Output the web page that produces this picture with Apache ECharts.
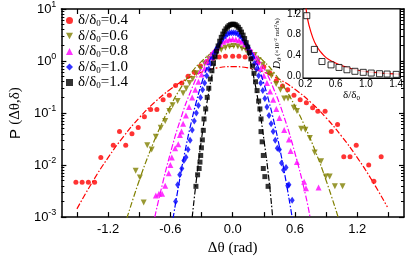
<!DOCTYPE html>
<html><head><meta charset="utf-8">
<script src="https://cdn.jsdelivr.net/npm/echarts@6/dist/echarts.min.js"></script>
<style>html,body{margin:0;padding:0;background:#fff}#c{width:415px;height:261px}</style>
</head><body><div id="c"></div>
<script>
// ---- data: measured P(Δθ,δ) ----
const red04 = [[-1.51,0.0047],[-1.45,0.0047],[-1.39,0.0047],[-1.33,0.0047],[-1.27,0.014],[-1.15,0.024],[-1.09,0.044],[-1.03,0.024],[-0.97,0.040],[-0.91,0.053],[-0.85,0.085],[-0.79,0.117],[-0.73,0.117],[-0.67,0.18],[-0.61,0.22],[-0.55,0.34],[-0.49,0.38],[-0.43,0.51],[-0.37,0.61],[-0.31,0.80],[-0.25,0.98],[-0.19,1.12],[-0.13,1.2],[-0.07,1.24],[0,1.24],[0.06,1.24],[0.12,1.2],[0.18,1.12],[0.24,0.95],[0.30,0.78],[0.36,0.58],[0.42,0.42],[0.48,0.33],[0.53,0.28],[0.59,0.22],[0.65,0.18],[0.71,0.158],[0.77,0.126],[0.82,0.108],[0.89,0.108],[0.95,0.044],[1.01,0.06],[1.07,0.0145],[1.13,0.0145],[1.19,0.024],[1.31,0.0100],[1.36,0.0049],[1.43,0.0145]];
const olive06 = [[-0.934,0.0078],[-0.894,0.0058],[-0.857,0.0019],[-0.823,0.024],[-0.78,0.02],[-0.74,0.035],[-0.693,0.052],[-0.65,0.07],[-0.61,0.11],[-0.579,0.142],[-0.53,0.17],[-0.477,0.24],[-0.447,0.295],[-0.415,0.38],[-0.385,0.45],[-0.35,0.58],[-0.31,0.72],[-0.27,0.9],[-0.23,1.1],[-0.19,1.3],[-0.15,1.5],[-0.11,1.65],[-0.07,1.8],[-0.03,1.9],[0.01,1.95],[0.05,1.9],[0.09,1.75],[0.13,1.6],[0.17,1.45],[0.21,1.3],[0.25,1.05],[0.29,0.85],[0.341,0.6],[0.373,0.52],[0.419,0.36],[0.46,0.28],[0.496,0.19],[0.533,0.19],[0.588,0.126],[0.619,0.11],[0.66,0.05],[0.70,0.048],[0.743,0.033],[0.79,0.0174],[0.851,0.0119],[0.897,0.006],[0.934,0.006],[0.984,0.0039],[1.058,0.0039]];
const mag08 = [[-0.74,0.0026],[-0.71,0.0028],[-0.68,0.0028],[-0.65,0.004],[-0.616,0.007],[-0.60,0.01],[-0.586,0.014],[-0.554,0.021],[-0.524,0.025],[-0.508,0.038],[-0.493,0.044],[-0.477,0.062],[-0.45,0.09],[-0.42,0.13],[-0.39,0.2],[-0.36,0.28],[-0.33,0.4],[-0.30,0.55],[-0.27,0.72],[-0.24,0.95],[-0.21,1.2],[-0.18,1.5],[-0.15,1.8],[-0.12,2.1],[-0.09,2.35],[-0.06,2.5],[-0.03,2.6],[0,2.65],[0.03,2.6],[0.06,2.5],[0.09,2.35],[0.12,2.1],[0.15,1.8],[0.18,1.5],[0.21,1.2],[0.24,0.95],[0.27,0.72],[0.30,0.52],[0.33,0.38],[0.36,0.26],[0.39,0.18],[0.42,0.12],[0.45,0.08],[0.496,0.047],[0.542,0.031],[0.558,0.0187],[0.619,0.0114],[0.688,0.0048],[0.706,0.0036],[0.827,0.0037]];
const blue10 = [[-0.55,0.002],[-0.53,0.0042],[-0.51,0.0065],[-0.49,0.0086],[-0.47,0.0123],[-0.45,0.0141],[-0.43,0.02],[-0.41,0.03],[-0.39,0.047],[-0.37,0.07],[-0.35,0.1],[-0.33,0.14],[-0.31,0.2],[-0.29,0.28],[-0.27,0.38],[-0.25,0.52],[-0.23,0.7],[-0.21,0.9],[-0.19,1.15],[-0.17,1.45],[-0.15,1.8],[-0.13,2.1],[-0.11,2.45],[-0.09,2.8],[-0.07,3.05],[-0.05,3.3],[-0.03,3.45],[-0.01,3.5],[0.01,3.5],[0.03,3.45],[0.05,3.3],[0.07,3.05],[0.09,2.8],[0.11,2.45],[0.13,2.1],[0.15,1.8],[0.17,1.45],[0.19,1.15],[0.21,0.9],[0.23,0.7],[0.25,0.52],[0.27,0.38],[0.29,0.27],[0.31,0.19],[0.33,0.13],[0.35,0.09],[0.37,0.062],[0.39,0.044],[0.41,0.03],[0.43,0.021],[0.45,0.02],[0.47,0.011],[0.49,0.008],[0.514,0.009],[0.53,0.004],[0.542,0.0042],[0.573,0.0021]];
const black14 = [[-0.354,0.0039],[-0.338,0.0065],[-0.323,0.0086],[-0.315,0.0114],[-0.308,0.0153],[-0.301,0.0215],[-0.292,0.0305],[-0.283,0.0465],[-0.276,0.077],[-0.26,0.12],[-0.245,0.2],[-0.23,0.3],[-0.215,0.45],[-0.2,0.65],[-0.185,0.9],[-0.17,1.2],[-0.155,1.55],[-0.14,1.95],[-0.125,2.4],[-0.11,2.85],[-0.095,3.3],[-0.08,3.75],[-0.065,4.15],[-0.05,4.5],[-0.035,4.8],[-0.02,5.0],[-0.005,5.1],[0.01,5.1],[0.025,5.0],[0.04,4.75],[0.055,4.45],[0.07,4.05],[0.085,3.6],[0.1,3.15],[0.115,2.7],[0.13,2.25],[0.145,1.85],[0.16,1.45],[0.175,1.1],[0.19,0.8],[0.205,0.58],[0.22,0.4],[0.235,0.27],[0.25,0.17],[0.262,0.12],[0.273,0.077],[0.273,0.044],[0.284,0.028],[0.295,0.0153],[0.295,0.0086],[0.31,0.006],[0.341,0.0039]];
// ---- fitted curves (dash-dot) ----
const redFit = [[-1.5,0.00144],[-1.35,0.00476],[-1.2,0.0139],[-1.05,0.0357],[-0.9,0.081],[-0.75,0.162],[-0.6,0.286],[-0.45,0.445],[-0.3,0.61],[-0.15,0.736],[0,0.78],[0.15,0.736],[0.3,0.61],[0.45,0.445],[0.6,0.286],[0.75,0.162],[0.9,0.081],[1.05,0.0357],[1.2,0.0139],[1.35,0.00476],[1.49,0.00156]];
const oliveFit = [[-1.02,0.00094],[-0.9,0.00506],[-0.8,0.0176],[-0.7,0.0527],[-0.6,0.136],[-0.5,0.305],[-0.4,0.59],[-0.3,0.986],[-0.2,1.42],[-0.1,1.77],[0,1.905],[0.1,1.77],[0.2,1.42],[0.3,0.986],[0.4,0.59],[0.5,0.305],[0.6,0.136],[0.7,0.0527],[0.8,0.0176],[0.9,0.00506],[1.02,0.00094]];
const magFit = [[-0.75,0.001],[-0.7,0.00276],[-0.6,0.0169],[-0.5,0.0785],[-0.4,0.275],[-0.3,0.733],[-0.2,1.47],[-0.1,2.24],[0,2.57],[0.1,2.24],[0.2,1.47],[0.3,0.733],[0.4,0.275],[0.5,0.0785],[0.6,0.0169],[0.7,0.00276],[0.745,0.001]];
const blueFit = [[-0.575,0.00093],[-0.5,0.0069],[-0.45,0.0225],[-0.4,0.065],[-0.35,0.165],[-0.3,0.37],[-0.25,0.733],[-0.2,1.28],[-0.15,1.98],[-0.1,2.70],[-0.05,3.26],[0,3.47],[0.05,3.26],[0.1,2.70],[0.15,1.98],[0.2,1.28],[0.25,0.733],[0.3,0.37],[0.35,0.165],[0.4,0.065],[0.45,0.0225],[0.5,0.0069],[0.575,0.00093]];
const blackFit = [[-0.39,0.00099],[-0.35,0.0051],[-0.3,0.0316],[-0.25,0.148],[-0.2,0.522],[-0.15,1.39],[-0.1,2.80],[-0.05,4.26],[0,4.90],[0.05,4.26],[0.1,2.80],[0.15,1.39],[0.2,0.522],[0.25,0.148],[0.3,0.0316],[0.35,0.0051],[0.385,0.00099]];
// ---- inset: D_theta vs delta/delta0 ----
const insetPts = [[0.22,1.17],[0.32,0.515],[0.42,0.28],[0.54,0.215],[0.645,0.165],[0.75,0.12],[0.855,0.09],[0.965,0.07],[1.07,0.056],[1.18,0.043],[1.28,0.037],[1.40,0.031]];
const insetFit = [[0.2,1.5],[0.22,1.2],[0.25,0.98],[0.3,0.74],[0.35,0.58],[0.4,0.47],[0.45,0.39],[0.5,0.33],[0.6,0.25],[0.7,0.19],[0.8,0.145],[0.9,0.11],[1.0,0.085],[1.1,0.068],[1.2,0.055],[1.3,0.046],[1.45,0.036]];
// ---- ticks ----
const xTicks = [-1.5,-1.2,-0.9,-0.6,-0.3,0,0.3,0.6,0.9,1.2,1.5];
const xLabels = [-1.2,-0.6,0,0.6,1.2];
const yMinor = [0.002,0.003,0.004,0.005,0.006,0.007,0.008,0.009,0.02,0.03,0.04,0.05,0.06,0.07,0.08,0.09,0.2,0.3,0.4,0.5,0.6,0.7,0.8,0.9,2,3,4,5,6,7,8,9];
const insXLabels = [0.2,0.6,1.0,1.4];
const insXTicks = [0.2,0.4,0.6,0.8,1.0,1.2,1.4];
const insYLabels = [0,0.4,0.8,1.2];
const insYTicks = [0,0.2,0.4,0.6,0.8,1.0,1.2];
const names = ['0.4','0.6','0.8','1.0','1.4'];
const colors = ['#ff0000','#808000','#ff00ff','#0000ff','#000000'];

const chart = echarts.init(document.getElementById('c'), null, {renderer:'canvas'});
const serif = 'Liberation Serif, Times New Roman, serif';
const sans = 'Liberation Sans, Arial, sans-serif';
const line = {onZero:false, lineStyle:{color:'#000',width:1.5}};
const thin = {onZero:false, lineStyle:{color:'#000',width:1}};
const noLine = {show:false, onZero:false};
const dashDot = [6,2,1.5,2];

const scat = [red04, olive06, mag08, blue10, black14];
const fits = [redFit, oliveFit, magFit, blueFit, blackFit];
const syms = ['circle','path://M0,0L10,0L5,9Z','triangle','diamond','rect'];
const sizes = [5,[6,6],[6,6],[5,7],5];
const series = [];
for (let i=0;i<5;i++){
  series.push({type:'scatter', name:names[i], xAxisIndex:0, yAxisIndex:0, data:scat[i], symbol:syms[i], symbolSize:sizes[i], itemStyle:{color:colors[i]}, z:3+i, animation:false});
  series.push({type:'line', xAxisIndex:0, yAxisIndex:0, data:fits[i], showSymbol:false, smooth:true, lineStyle:{color:colors[i], width:1.2, type:dashDot}, z:3+i, animation:false});
}
series.push({type:'line', xAxisIndex:2, yAxisIndex:4, data:insetFit, showSymbol:false, smooth:true, clip:true, lineStyle:{color:'#ff0000', width:1.2}, z:20, animation:false});
series.push({type:'scatter', xAxisIndex:2, yAxisIndex:4, data:insetPts, symbol:'rect', symbolSize:6, itemStyle:{color:'#fff', borderColor:'#000', borderWidth:1}, z:21, animation:false});

chart.setOption({
  animation:false,
  grid:[
    {left:48, top:7, right:11, bottom:37},
    {left:303, top:9, width:97, height:69, show:true, backgroundColor:'#fff', borderColor:'#000', borderWidth:1, z:10}
  ],
  legend:{
    data:names, orient:'vertical', left:61, top:8, itemGap:0, itemWidth:7, itemHeight:7,
    formatter: n => '{a|δ/δ}{s|0}{a|=' + n + '}',
    textStyle:{rich:{a:{fontFamily:serif,fontSize:15,color:'#000',lineHeight:14}, s:{fontFamily:serif,fontSize:9,color:'#000',padding:[7,0,0,0]}}}
  },
  xAxis:[
    {gridIndex:0, type:'value', min:-1.65, max:1.65, position:'bottom', axisLine:line, splitLine:{show:false},
     axisTick:{inside:true, length:5, customValues:xTicks, lineStyle:{color:'#000',width:1.2}},
     axisLabel:{customValues:xLabels, formatter:v=>v.toFixed(1), color:'#000', fontSize:13, fontFamily:sans, margin:6},
     name:'Δθ (rad)', nameLocation:'middle', nameGap:19, nameTextStyle:{fontFamily:serif, fontSize:15, color:'#000'}},
    {gridIndex:0, type:'value', min:-1.65, max:1.65, position:'top', axisLine:line, splitLine:{show:false},
     axisTick:{inside:true, length:5, customValues:xTicks, lineStyle:{color:'#000',width:1.2}}, axisLabel:{show:false}},
    {gridIndex:1, type:'value', min:0.17, max:1.45, position:'bottom', axisLine:thin, splitLine:{show:false},
     axisTick:{inside:true, length:3, customValues:insXTicks, lineStyle:{color:'#000'}},
     axisLabel:{customValues:insXLabels, formatter:v=>v.toFixed(1), color:'#000', fontSize:10, fontFamily:sans, margin:1},
     name:'δ/δ{s|0}', nameLocation:'middle', nameGap:9, nameTextStyle:{fontFamily:serif, fontSize:11, color:'#000', rich:{s:{fontFamily:serif,fontSize:7,padding:[5,0,0,0]}}}},
    {gridIndex:1, type:'value', min:0.17, max:1.45, position:'top', axisLine:thin, splitLine:{show:false},
     axisTick:{inside:true, length:3, customValues:insXTicks, lineStyle:{color:'#000'}}, axisLabel:{show:false}}
  ],
  yAxis:[
    {gridIndex:0, type:'log', logBase:10, min:0.001, max:10, position:'left', axisLine:line, splitLine:{show:false},
     axisTick:{inside:true, length:5, lineStyle:{color:'#000',width:1.2}},
     axisLabel:{color:'#000', margin:5, formatter:v=>'{b|10}{s|'+Math.round(Math.log10(v))+'}',
       rich:{b:{fontFamily:sans,fontSize:13,color:'#000'}, s:{fontFamily:sans,fontSize:9,color:'#000',padding:[0,0,9,0]}}},
     name:'{p|P }{q|(Δθ,δ)}', nameLocation:'middle', nameGap:33, nameRotate:90,
     nameTextStyle:{rich:{p:{fontFamily:sans,fontSize:15,color:'#000'}, q:{fontFamily:serif,fontSize:15,color:'#000'}}}},
    {gridIndex:0, type:'log', logBase:10, min:0.001, max:10, position:'left', axisLine:noLine, splitLine:{show:false},
     axisTick:{inside:true, length:3, customValues:yMinor, lineStyle:{color:'#000',width:1}}, axisLabel:{show:false}},
    {gridIndex:0, type:'log', logBase:10, min:0.001, max:10, position:'right', axisLine:line, splitLine:{show:false},
     axisTick:{inside:true, length:5, lineStyle:{color:'#000',width:1.2}}, axisLabel:{show:false}},
    {gridIndex:0, type:'log', logBase:10, min:0.001, max:10, position:'right', axisLine:noLine, splitLine:{show:false},
     axisTick:{inside:true, length:3, customValues:yMinor, lineStyle:{color:'#000',width:1}}, axisLabel:{show:false}},
    {gridIndex:1, type:'value', min:-0.04, max:1.3, position:'left', axisLine:thin, splitLine:{show:false},
     axisTick:{inside:true, length:3, customValues:insYTicks, lineStyle:{color:'#000'}},
     axisLabel:{customValues:insYLabels, formatter:v=>v.toFixed(1), color:'#000', fontSize:10, fontFamily:sans, margin:2},
     name:'{i|D}{t|θ}{n| (×10}{u|-2}{n| rad}{u|2}{n|/s)}', nameLocation:'middle', nameGap:20, nameRotate:90,
     nameTextStyle:{rich:{i:{fontFamily:serif,fontStyle:'italic',fontSize:11,color:'#000'}, t:{fontFamily:serif,fontStyle:'italic',fontSize:7,color:'#000',padding:[4,0,0,0]}, n:{fontFamily:serif,fontSize:7,color:'#000'}, u:{fontFamily:serif,fontSize:5,color:'#000',padding:[0,0,4,0]}}}},
    {gridIndex:1, type:'value', min:-0.04, max:1.3, position:'right', axisLine:thin, splitLine:{show:false},
     axisTick:{inside:true, length:3, customValues:insYTicks, lineStyle:{color:'#000'}}, axisLabel:{show:false}}
  ],
  series: series
});
</script></body></html>
